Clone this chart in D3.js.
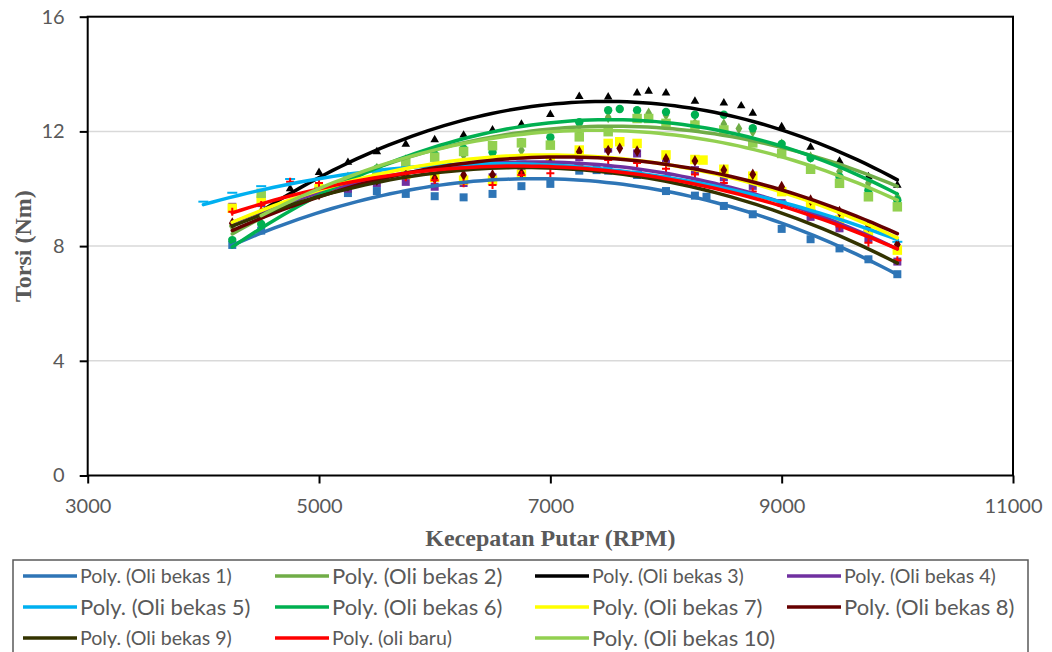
<!DOCTYPE html>
<html lang="en">
<head>
<meta charset="UTF-8">
<title>Torsi vs Kecepatan Putar</title>
<style>
  body { margin: 0; background: #fff; }
  .axis text { font-family: Lato, "Noto Sans", sans-serif; font-size: 20px; fill: #595959; }
  .axis-title { font-family: "Liberation Serif", "DejaVu Serif", serif; font-weight: bold; font-size: 24px; fill: #595959; }
  .legend text { font-family: Lato, "Noto Sans", sans-serif; fill: #595959; }
</style>
</head>
<body>
<svg id="chart"></svg>
<script src="https://cdnjs.cloudflare.com/ajax/libs/d3/7.8.5/d3.min.js"></script>
<script>
// ---- data (RPM, Nm) ----
var rpm1 = [4250,4500,5250,5500,5750,6000,6250,6500,6750,7000,7250,7400,7500,7750,8000,8250,8350,8500,8750,9000,9250,9500,9750,10000];
var torsi1 = [8.04,8.54,9.85,9.92,9.82,9.74,9.70,9.82,10.09,10.17,10.63,10.65,10.63,10.48,9.92,9.76,9.72,9.40,9.11,8.60,8.24,7.92,7.54,7.02];

var rpm2 = [4250,4500,5000,5250,5500,5750,6000,6250,6500,6750,7000,7250,7500,7850,8000,8250,8500,8630,8750,9000,9250,9500,9750,10000];
var torsi2 = [8.7,9.2,10.0,10.4,10.7,11.0,11.2,11.18,11.4,11.34,11.7,12.0,12.49,12.63,12.57,12.28,12.25,12.1,11.99,11.55,11.1,10.6,10.2,9.7];

var rpm3 = [4500,4750,5000,5250,5500,5750,6000,6250,6500,6750,7000,7250,7500,7750,7850,8000,8250,8500,8650,8750,9000,9250,9500,9750,10000];
var torsi3 = [9.7,10.0,10.57,10.92,11.29,11.55,11.71,11.87,12.05,12.25,12.59,13.22,13.20,13.34,13.40,13.34,13.05,12.99,12.89,12.63,12.16,11.45,10.96,10.42,10.12];

var rpm4 = [4250,4500,5000,5250,5500,5750,6000,6250,6500,6750,7000,7250,7500,7750,8000,8250,8500,8750,9000,9250,9500,9750,10000];
var torsi4 = [9.37,9.5,9.9,10.0,10.2,10.24,10.07,10.2,10.4,10.65,10.9,11.1,11.4,11.23,11.0,10.65,10.4,10.1,9.5,9.02,8.62,8.27,7.46];

var rpm5 = [4000,4250,4500,4750,5000,5250,5500,5750,6000,6250,6500,6750,7000,7250,7500,7750,8000,8250,8500,8750,9000,9250,9500,9750,10000];
var torsi5 = [9.55,9.86,10.09,10.34,10.0,10.25,10.45,10.6,10.75,10.85,10.95,10.95,10.9,10.85,10.75,10.6,10.45,10.25,10.05,9.8,9.55,9.25,8.9,8.55,8.15];

var rpm6 = [4250,4500,5000,5250,5500,5750,6000,6250,6500,6750,7000,7250,7500,7600,7750,8000,8250,8500,8750,9000,9250,9500,9750,10000];
var torsi6 = [8.21,8.77,10.0,10.4,10.7,11.0,11.2,11.4,11.27,11.62,11.80,12.32,12.74,12.78,12.74,12.68,12.58,12.58,12.11,11.56,11.07,10.42,9.95,9.6];

var rpm7 = [4250,4500,5000,5250,5500,5750,6000,6250,6500,6750,7000,7250,7500,7600,7750,8000,8250,8320,8500,8750,9000,9250,9500,9750,10000];
var torsi7 = [9.32,9.6,10.0,10.2,10.4,10.5,10.4,10.3,10.3,10.5,10.9,11.35,11.58,11.64,11.58,11.18,11.02,11.0,10.68,10.44,9.9,9.4,8.91,8.5,7.86];

var rpm8 = [4250,4500,5000,5250,5500,5750,6000,6250,6500,6750,7000,7250,7500,7600,7750,8000,8250,8500,8750,9000,9250,9500,9750,10000];
var torsi8 = [8.8,9.14,9.8,10.1,10.3,10.48,10.36,10.48,10.48,10.54,10.89,11.29,11.33,11.41,11.31,11.04,10.97,10.65,10.50,10.07,9.6,9.2,8.7,8.06];

var rpm9 = [4250,4500,5000,5250,5500,5750,6000,6250,6500,6750,7000,7250,7500,7750,8000,8250,8500,8750,9000,9250,9500,9750,10000];
var torsi9 = [8.7,9.1,9.8,10.0,10.2,10.4,10.5,10.6,10.65,10.7,10.7,10.7,10.6,10.5,10.3,10.1,9.8,9.5,9.1,8.8,8.3,7.9,7.4];

var rpmBaru = [4250,4500,4750,5000,5250,5500,5750,6000,6250,6500,6750,7000,7250,7500,7750,8000,8250,8500,8750,9000,9250,9500,9750,10000];
var torsiBaru = [9.2,9.43,10.24,10.2,10.3,10.4,10.4,10.3,10.19,10.13,10.48,10.54,10.8,11.0,10.9,10.7,10.5,10.2,9.9,9.43,9.1,8.68,8.12,7.51];

var rpm10 = [4500,5000,5250,5500,5750,6000,6250,6500,6750,7000,7250,7500,7750,7850,8000,8250,8500,8750,9000,9250,9500,9750,10000];
var torsi10 = [9.84,9.9,10.3,10.6,10.9,11.1,11.3,11.5,11.6,11.52,11.81,11.99,12.45,12.45,12.28,12.22,12.05,11.6,11.23,10.68,10.19,9.72,9.37];

var legendNames = ["Poly. (Oli bekas 1)","Poly. (Oli bekas 2)","Poly. (Oli bekas 3)","Poly. (Oli bekas 4)",
                   "Poly. (Oli bekas 5)","Poly. (Oli bekas 6)","Poly. (Oli bekas 7)","Poly. (Oli bekas 8)",
                   "Poly. (Oli bekas 9)","Poly. (oli baru)","Poly. (Oli bekas 10)"];
var xTicks = [3000,5000,7000,9000,11000];
var yTicks = [0,4,8,12,16];

// ---- styles ----
var series = [
  {x: rpm1, y: torsi1, color: "#2E75B6", marker: "square", big: false},
  {x: rpm2, y: torsi2, color: "#70AD47", marker: "diamond", big: true},
  {x: rpm3, y: torsi3, color: "#000000", marker: "triangle", big: false},
  {x: rpm4, y: torsi4, color: "#7030A0", marker: "square", big: false},
  {x: rpm5, y: torsi5, color: "#00B0F0", marker: "dash", big: true},
  {x: rpm6, y: torsi6, color: "#00B050", marker: "circle", big: true},
  {x: rpm7, y: torsi7, color: "#FFFF00", marker: "bigsquare", big: true},
  {x: rpm8, y: torsi8, color: "#660000", marker: "diamond", big: true},
  {x: rpm9, y: torsi9, color: "#333300", marker: "none", big: false},
  {x: rpmBaru, y: torsiBaru, color: "#FF0000", marker: "plus", big: false},
  {x: rpm10, y: torsi10, color: "#92D050", marker: "bigsquare", big: true}
];
series.forEach(function(s, i){ s.name = legendNames[i]; });

var width = 1052, height = 652;
var svg = d3.select("#chart").attr("width", width).attr("height", height);

var x = d3.scaleLinear().domain([3000, 11000]).range([87.7, 1013]);
var y = d3.scaleLinear().domain([0, 16]).range([475.5, 16.7]);

// gridlines
svg.append("g").selectAll("line")
  .data(yTicks.filter(function(d){ return d > 0 && d < 16; }))
  .enter().append("line")
  .attr("x1", x(3000)).attr("x2", x(11000))
  .attr("y1", function(d){ return y(d); }).attr("y2", function(d){ return y(d); })
  .attr("stroke", "#d9d9d9").attr("stroke-width", 1.5);

// quadratic least squares, like the Excel "Poly." trendline
function quadFit(xs, ys){
  var m = d3.mean(xs), k = 1000;
  var s = [0,0,0,0,0], t = [0,0,0];
  xs.forEach(function(xv, i){
    var u = (xv - m) / k, p = 1;
    for (var j = 0; j < 5; j++){ s[j] += p; if (j < 3) t[j] += p * ys[i]; p *= u; }
  });
  var A = [[s[0],s[1],s[2]],[s[1],s[2],s[3]],[s[2],s[3],s[4]]];
  function det(M){
    return M[0][0]*(M[1][1]*M[2][2]-M[1][2]*M[2][1]) - M[0][1]*(M[1][0]*M[2][2]-M[1][2]*M[2][0]) + M[0][2]*(M[1][0]*M[2][1]-M[1][1]*M[2][0]);
  }
  var D = det(A), c = [];
  for (var col = 0; col < 3; col++){
    var B = A.map(function(r, ri){ return r.map(function(v, ci){ return ci === col ? t[ri] : v; }); });
    c.push(det(B) / D);
  }
  return function(xv){ var u = (xv - m) / k; return c[0] + c[1]*u + c[2]*u*u; };
}

// markers
var markerG = svg.append("g");
series.forEach(function(s){
  if (s.marker === "none") return;
  var pts = s.x.map(function(xv, i){ return [xv, s.y[i]]; });
  var g = markerG.append("g");
  var sel = g.selectAll("path").data(pts).enter().append("path")
    .attr("transform", function(d){ return "translate(" + x(d[0]) + "," + y(d[1]) + ")"; });
  if (s.marker === "square") sel.attr("d", d3.symbol(d3.symbolSquare, 64)).attr("fill", s.color);
  if (s.marker === "bigsquare") sel.attr("d", d3.symbol(d3.symbolSquare, 90)).attr("fill", s.color);
  if (s.marker === "diamond") sel.attr("d", d3.symbol(d3.symbolDiamond, 40)).attr("fill", s.color);
  if (s.marker === "triangle") sel.attr("d", d3.symbol(d3.symbolTriangle, 32)).attr("fill", s.color);
  if (s.marker === "circle") sel.attr("d", d3.symbol(d3.symbolCircle, 55)).attr("fill", s.color);
  if (s.marker === "dash") sel.attr("d", "M-5,-1h10v2h-10z").attr("fill", s.color);
  if (s.marker === "plus") sel.attr("d", "M-4,0H4M0,-4V4").attr("stroke", s.color).attr("stroke-width", 2).attr("fill", "none");
});

// trendlines
var line = d3.line().x(function(d){ return x(d[0]); }).y(function(d){ return y(d[1]); });
var trendG = svg.append("g");
series.forEach(function(s){
  var f = quadFit(s.x, s.y);
  var x0 = d3.min(s.x), x1 = d3.max(s.x);
  var samples = d3.range(81).map(function(i){ var xv = x0 + (x1 - x0) * i / 80; return [xv, f(xv)]; });
  trendG.append("path").datum(samples)
    .attr("d", line).attr("fill", "none")
    .attr("stroke", s.color).attr("stroke-width", 3.5)
    .attr("stroke-linecap", "round").attr("stroke-linejoin", "round");
});

// axes
var xAxis = svg.append("g").attr("class", "axis")
  .attr("transform", "translate(0," + y(0) + ")")
  .call(d3.axisBottom(x).tickValues(xTicks).tickSize(8).tickPadding(15).tickFormat(d3.format("d")));
var yAxis = svg.append("g").attr("class", "axis")
  .attr("transform", "translate(" + x(3000) + ",0)")
  .call(d3.axisLeft(y).tickValues(yTicks).tickSize(8).tickPadding(15).tickFormat(d3.format("d")));
[xAxis, yAxis].forEach(function(a){
  a.select(".domain").remove();
  a.selectAll(".tick line").attr("stroke", "#000").attr("stroke-width", 2);
});

// plot border
svg.append("rect")
  .attr("x", x(3000)).attr("y", y(16))
  .attr("width", x(11000) - x(3000)).attr("height", y(0) - y(16))
  .attr("fill", "none").attr("stroke", "#000").attr("stroke-width", 2);

// axis titles
svg.append("text").attr("class", "axis-title")
  .attr("x", (x(3000) + x(11000)) / 2).attr("y", 546)
  .attr("text-anchor", "middle").text("Kecepatan Putar (RPM)");
svg.append("text").attr("class", "axis-title")
  .attr("transform", "translate(31," + ((y(0) + y(16)) / 2) + ") rotate(-90)")
  .attr("text-anchor", "middle").text("Torsi (Nm)");

// legend
var legend = svg.append("g").attr("class", "legend");
legend.append("rect")
  .attr("x", 13).attr("y", 560).attr("width", 1015).attr("height", 110)
  .attr("fill", "none").attr("stroke", "#595959").attr("stroke-width", 1.5);
var colX = [23, 275, 535, 787], rowY = [576, 607, 638];
var item = legend.selectAll("g.item").data(series).enter().append("g")
  .attr("class", "item")
  .attr("transform", function(d, i){ return "translate(" + colX[i % 4] + "," + rowY[Math.floor(i / 4)] + ")"; });
item.append("line").attr("x1", 0).attr("x2", 54)
  .attr("stroke", function(d){ return d.color; }).attr("stroke-width", 3.5);
item.append("text").attr("x", 57).attr("dy", "0.35em")
  .style("font-size", function(d){ return d.big ? "22px" : "19.6px"; })
  .text(function(d){ return d.name; });
</script>
</body>
</html>
